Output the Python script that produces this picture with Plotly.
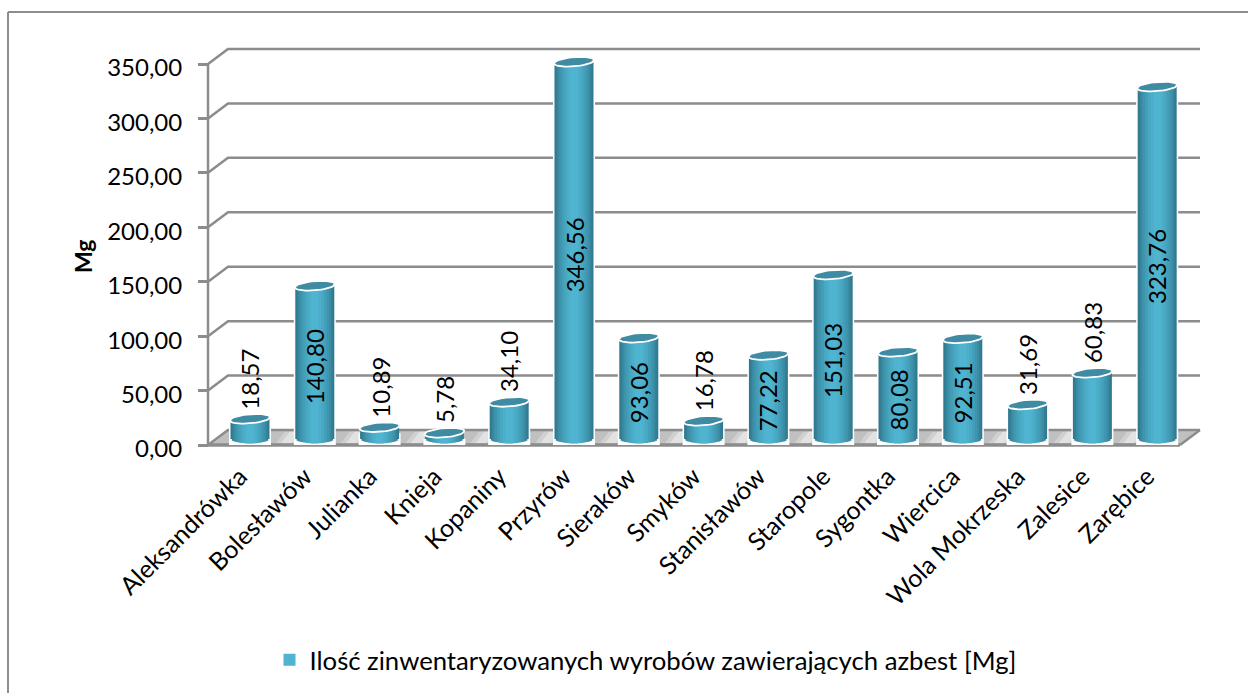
import math
import plotly.graph_objects as go

categories = ["Aleksandrówka", "Bolesławów", "Julianka", "Knieja", "Kopaniny", "Przyrów", "Sieraków", "Smyków",
              "Stanisławów", "Staropole", "Sygontka", "Wiercica", "Wola Mokrzeska", "Zalesice", "Zarębice"]
values = [18.57, 140.80, 10.89, 5.78, 34.10, 346.56, 93.06, 16.78, 77.22, 151.03, 80.08, 92.51, 31.69, 60.83, 323.76]
y_ticks = [0, 50, 100, 150, 200, 250, 300, 350]
series_name = "Ilość zinwentaryzowanych wyrobów zawierających azbest [Mg]"
axis_title = "Mg"

W, H = 1248, 693
L, R, T, B = 208, 1180, 64, 445      # front face of the 3D box, in pixels
PX_X = (R - L) / 15
PX_Y = (B - T) / 350
X0, X1 = -0.648, 14.352              # front face in data units
DX = 20 / PX_X
DY = 15 / PX_Y
BASE = 6 / PX_Y
A = 19.5 / PX_X
BY = 4.6 / PX_Y
SHEAR = 1.6 / PX_Y
GRID = "#8c8c8c"
FONT = "Lato"
FS_NUM = 24
FS_TXT = 25

# plotted region is larger than the front face so the 3D walls are not clipped
DOM_L, DOM_R, DOM_T, DOM_B = 190, 1206, 40, 452
XR = [X0 - (L - DOM_L) / PX_X, X1 + (DOM_R - R) / PX_X]
YR = [-(DOM_B - B) / PX_Y, (B - DOM_T) / PX_Y]

n = len(categories)
xs = list(range(n))

fig = go.Figure()

# floor
fig.add_trace(go.Scatter(x=[X0, X0 + DX, X1 + DX, X1, X0], y=[0, DY, DY, 0, 0], mode="lines", fill="toself",
                         fillcolor="#c0c0c0", line=dict(color="#c0c0c0", width=0), showlegend=False,
                         hoverinfo="skip", zorder=0))
# light streaks on floor
for half, col in ((0.16, "#d0d0d0"), (0.08, "#e2e2e2")):
    sx, sy = [], []
    for i in range(n - 1):
        c = i + 0.56
        sx += [c - half, c + 0.14 - half, c + 0.14 + half, c + half, None]
        sy += [1.5, DY * 0.9, DY * 0.9, 1.5, None]
    fig.add_trace(go.Scatter(x=sx, y=sy, mode="lines", fill="toself", fillcolor=col,
                             line=dict(width=0, color=col), showlegend=False, hoverinfo="skip", zorder=0))
# walls: gridlines, with the left side-wall segments
gx, gy = [], []
for v in y_ticks:
    gx += [X0, X0 + DX, X1 + DX, None]
    gy += [v, v + DY, v + DY, None]
# floor right side, value axis line
gx += [X1, X1 + DX, None, X0, X0, None]
gy += [0, DY, None, 0, y_ticks[-1], None]
fig.add_trace(go.Scatter(x=gx, y=gy, mode="lines", line=dict(color=GRID, width=2.5), showlegend=False,
                         hoverinfo="skip", zorder=0))
fig.add_trace(go.Scatter(x=[X0, X1], y=[0, 0], mode="lines", line=dict(color=GRID, width=3.5), showlegend=False,
                         hoverinfo="skip", zorder=0))

# white halo of the cylinders
fig.add_trace(go.Bar(x=xs, y=values, base=[BASE - BY - 1.5 / PX_Y] * n, width=(2 * 19.5 + 3) / PX_X,
                     marker=dict(color="white", line=dict(width=0)), showlegend=False, hoverinfo="skip", zorder=1))

# cylinder shading: nested bars
stops = [(1.00, "#2f7a90"), (0.93, "#347f96"), (0.85, "#3a8aa2"), (0.75, "#3f95ae"), (0.62, "#439fb9"),
         (0.48, "#48a8c2"), (0.34, "#4caec9"), (0.20, "#4fb4cf")]
for u, col in stops:
    drop = BY * math.sqrt(max(0, 1 - u * u))
    last = u == stops[-1][0]
    fig.add_trace(go.Bar(x=xs, y=values, base=[BASE - drop] * n, width=2 * A * u,
                         marker=dict(color=col, line=dict(width=0)), name=series_name,
                         showlegend=last, hoverinfo="skip", zorder=1))

# top ellipses
ex, ey = [], []
for i, v in zip(xs, values):
    for k in range(41):
        t = 2 * math.pi * k / 40
        cu, su = math.cos(t), math.sin(t)
        ex.append(i + A * 1.03 * cu)
        ey.append(v + BASE + BY * su + SHEAR * cu)
    ex.append(None)
    ey.append(None)
fig.add_trace(go.Scatter(x=ex, y=ey, mode="lines", fill="toself", fillcolor="#3f8ba3",
                         line=dict(color="white", width=1.8), showlegend=False, hoverinfo="skip", zorder=2))

# value labels
annos = []
for i, v in zip(xs, values):
    txt = f"{v:.2f}".replace(".", ",")
    if v < 65:
        annos.append(dict(x=i, y=v + BASE + BY, yanchor="bottom", yshift=3, text=txt))
    else:
        annos.append(dict(x=i, y=BASE + v / 2, yanchor="middle", yshift=-4, text=txt))
for a in annos:
    a.update(xref="x", yref="y", xanchor="center", textangle=-90, showarrow=False,
             font=dict(family=FONT, size=FS_NUM, color="black"))
annos.append(dict(xref="paper", yref="paper", x=83 / W, y=1 - 256 / H, text="<b>" + axis_title + "</b>",
                  textangle=-90, showarrow=False, xanchor="center", yanchor="middle",
                  font=dict(family=FONT, size=23, color="black")))

px = lambda p: p / W
py = lambda p: 1 - p / H
fig.update_layout(
    width=W, height=H, autosize=False,
    margin=dict(l=0, r=0, t=0, b=0, pad=0, autoexpand=False),
    paper_bgcolor="white", plot_bgcolor="rgba(0,0,0,0)",
    barmode="overlay", separators=", ",
    font=dict(family=FONT, size=FS_NUM, color="black"),
    xaxis=dict(domain=[px(DOM_L), px(DOM_R)], range=XR, anchor="free", position=py(B),
               tickmode="array", tickvals=xs, ticktext=categories, tickangle=-45,
               showgrid=False, zeroline=False, showline=False, ticks="",
               ticklabelstandoff=11, ticklabelshift=-10, tickfont=dict(family=FONT, size=FS_TXT)),
    yaxis=dict(domain=[py(DOM_B), py(DOM_T)], range=YR, anchor="free", position=px(L),
               tickmode="array", tickvals=y_ticks, tickformat=".2f", showgrid=False,
               zeroline=False, showline=False, ticks="outside", ticklen=10,
               tickwidth=2.5, tickcolor=GRID, ticklabelstandoff=11, ticklabelshift=4,
               tickfont=dict(family=FONT, size=FS_NUM)),
    legend=dict(orientation="h", x=px(645.5), y=py(660), xanchor="center", yanchor="middle",
                font=dict(family=FONT, size=25.7), bgcolor="rgba(0,0,0,0)"),
    annotations=annos,
    shapes=[dict(type="line", xref="paper", yref="paper", x0=px(8), x1=px(8), y0=py(12), y1=0,
                 line=dict(color="#8e8e8e", width=2)),
            dict(type="line", xref="paper", yref="paper", x0=px(8), x1=1, y0=py(12), y1=py(12),
                 line=dict(color="#8e8e8e", width=2))],
)

fig.write_html("out.html", config=dict(displayModeBar=False),
               post_script="document.body.style.margin='0';document.body.style.overflow='hidden';")
